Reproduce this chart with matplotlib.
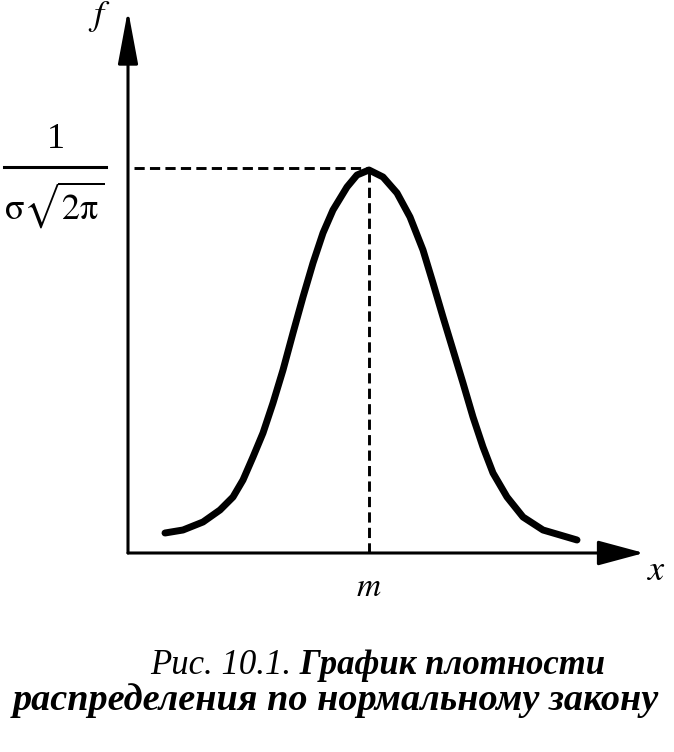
import matplotlib
matplotlib.use("Agg")
import matplotlib.pyplot as plt

# Curve (x from the origin, f up from the x axis)
curve_x = [0.37, 0.55, 0.75, 0.92, 1.05, 1.15, 1.25, 1.35, 1.45, 1.55, 1.65,
           1.75, 1.85, 1.95, 2.05, 2.19, 2.29, 2.41, 2.55, 2.69, 2.82, 2.95,
           3.05, 3.15, 3.25, 3.35, 3.45, 3.55, 3.65, 3.79, 3.95, 4.15, 4.32, 4.49]
curve_f = [0.20, 0.23, 0.31, 0.43, 0.56, 0.73, 0.96, 1.20, 1.50, 1.83, 2.20,
           2.56, 2.90, 3.20, 3.43, 3.66, 3.78, 3.83, 3.76, 3.60, 3.36, 3.03,
           2.70, 2.36, 2.03, 1.70, 1.36, 1.06, 0.80, 0.56, 0.36, 0.23, 0.18, 0.13]
m_pos = 2.41
f_max = 3.85
x_axis_end = 5.16
y_axis_end = 5.43

plt.rcParams['mathtext.fontset'] = 'stix'
serif = ['Liberation Serif', 'DejaVu Serif']

fig = plt.figure(figsize=(6.74, 7.52), dpi=100)
ax = fig.add_axes([0, 0, 1, 1])
ax.set_xlim(-1.28, 5.46)
ax.set_ylim(-1.99, 5.53)
ax.axis('off')

# axes with arrows
ax.annotate('', xy=(x_axis_end, 0), xytext=(0, 0),
            arrowprops=dict(arrowstyle='-|>,head_length=1.3,head_width=0.35',
                            lw=2.2, color='black', mutation_scale=22,
                            shrinkA=0, shrinkB=0))
ax.annotate('', xy=(0, y_axis_end), xytext=(0, 0),
            arrowprops=dict(arrowstyle='-|>,head_length=1.5,head_width=0.28',
                            lw=2.2, color='black', mutation_scale=22,
                            shrinkA=0, shrinkB=0))

# dashed guides
ax.plot([0.06, m_pos], [f_max, f_max], color='black', lw=2.1,
        linestyle=(0, (3.5, 1.8)))
ax.plot([m_pos, m_pos], [0, f_max], color='black', lw=2.1,
        linestyle=(0, (3.5, 1.8)))

# density curve
ax.plot(curve_x, curve_f, color='black', lw=5, solid_capstyle='round',
        solid_joinstyle='round')

# labels
ax.text(-0.29, 5.36, '$f$', fontsize=26, ha='center', va='center')
ax.text(-0.72, 4.13, '1', fontsize=26, family=serif, ha='center', va='center')
ax.plot([-1.24, -0.22], [3.86, 3.86], color='black', lw=2.2)
ax.text(-0.74, 3.48, r'$\mathrm{\sigma}\sqrt{2\mathrm{\pi}}$', fontsize=26,
        ha='center', va='center')
ax.text(m_pos, -0.33, '$m$', fontsize=24, ha='center', va='center')
ax.text(5.29, -0.17, '$x$', fontsize=26, ha='center', va='center')

# caption
t1 = ax.text(0.22, -1.21, 'Рис. 10.1.', fontsize=25, family=serif,
             style='italic', ha='left', va='baseline')
ax.annotate(' График плотности', xy=(1, 0), xycoords=t1, fontsize=25,
            family=serif, style='italic', weight='bold',
            ha='left', va='bottom')
ax.text(2.08, -1.57, 'распределения по нормальному закону', fontsize=27.5,
        family=serif, style='italic', weight='bold', ha='center', va='baseline')

fig.savefig('out.png', dpi=100)
